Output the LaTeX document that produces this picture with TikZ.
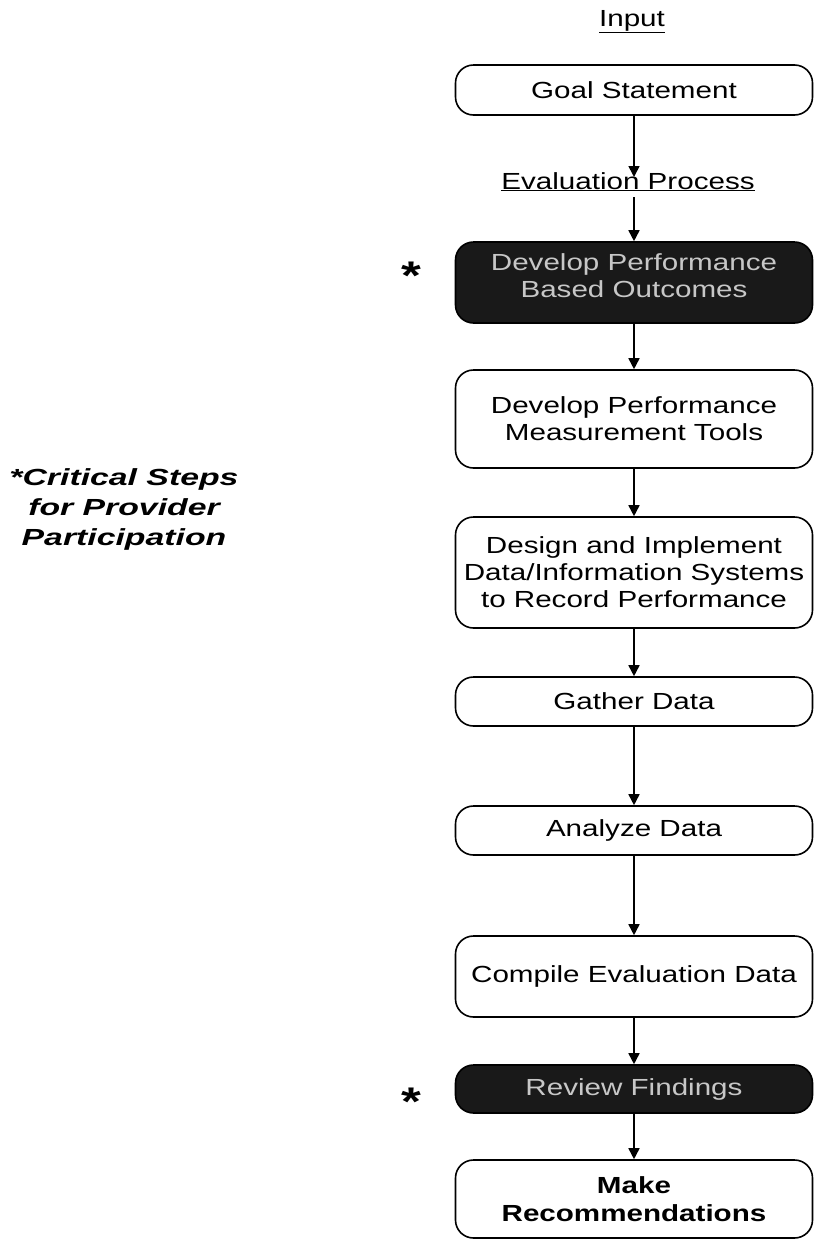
\documentclass[tikz,border=0pt]{standalone}
\usepackage{fontspec}
\setmainfont{Liberation Sans}[FakeStretch=1.27]
\newfontfamily\widesans{Liberation Sans}[FakeStretch=1.45]
\usetikzlibrary{arrows.meta}
\definecolor{darkfill}{gray}{0.1}
\definecolor{lighttext}{gray}{0.78}
\tikzset{
  every node/.style={font=\fontsize{23.3}{27}\selectfont},
  stepbox/.style={draw=black, line width=1.6pt, rounded corners=18pt, minimum width=357pt, align=center, inner sep=0pt},
  darkbox/.style={stepbox, fill=darkfill, text=lighttext},
  flow/.style={line width=1.6pt, -{Triangle[length=11pt,width=11pt]}},
  starmark/.style={font=\fontsize{40}{40}\selectfont\bfseries, inner sep=0pt, anchor=north},
  heading/.style={inner sep=0pt, anchor=base}
}
\begin{document}
\begin{tikzpicture}[x=1pt,y=-1pt]
\useasboundingbox (0,0) rectangle (814,1240);

\node[heading] (input) at (632,26) {\underline{Input}};

\node[stepbox, minimum height=50pt] (goal) at (634,90) {Goal Statement};
\node[heading] (evaltxt) at (628,189) {\underline{Evaluation Process}};
\coordinate (evaltop) at (634,177);
\coordinate (evalbot) at (634,197);

\node[darkbox, minimum height=81pt, text depth=14pt] (perf) at (634,282.5) {Develop Performance\\Based Outcomes};
\node[stepbox, minimum height=98pt] (tools) at (634,419) {Develop Performance\\Measurement Tools};
\node[stepbox, minimum height=111pt] (design) at (634,572.5) {Design and Implement\\Data/Information Systems\\to Record Performance};
\node[stepbox, minimum height=49pt] (gather) at (634,701.5) {Gather Data};
\node[stepbox, minimum height=49pt] (analyze) at (634,830.5) {Analyze Data};
\node[stepbox, minimum height=81pt] (compile) at (634,976.5) {Compile Evaluation Data};
\node[darkbox, minimum height=48pt] (review) at (634,1089) {Review Findings};
\node[stepbox, minimum height=78pt, font=\fontsize{23.3}{28}\selectfont\bfseries] (make) at (634,1199) {Make\\Recommendations};

\node[starmark] (star1) at (411,262) {*};
\node[starmark] (star2) at (411,1088) {*};

\node[align=center, inner sep=0pt, anchor=north, font=\fontsize{23.3}{30}\selectfont\widesans\bfseries\itshape] (critical) at (124,468) {*Critical Steps\\for Provider\\Participation};

\draw[flow] (goal.south) -- (evaltop);
\draw[flow] (evalbot) -- (perf.north);
\draw[flow] (perf.south) -- (tools.north);
\draw[flow] (tools.south) -- (design.north);
\draw[flow] (design.south) -- (gather.north);
\draw[flow] (gather.south) -- (analyze.north);
\draw[flow] (analyze.south) -- (compile.north);
\draw[flow] (compile.south) -- (review.north);
\draw[flow] (review.south) -- (make.north);
\end{tikzpicture}
\end{document}
